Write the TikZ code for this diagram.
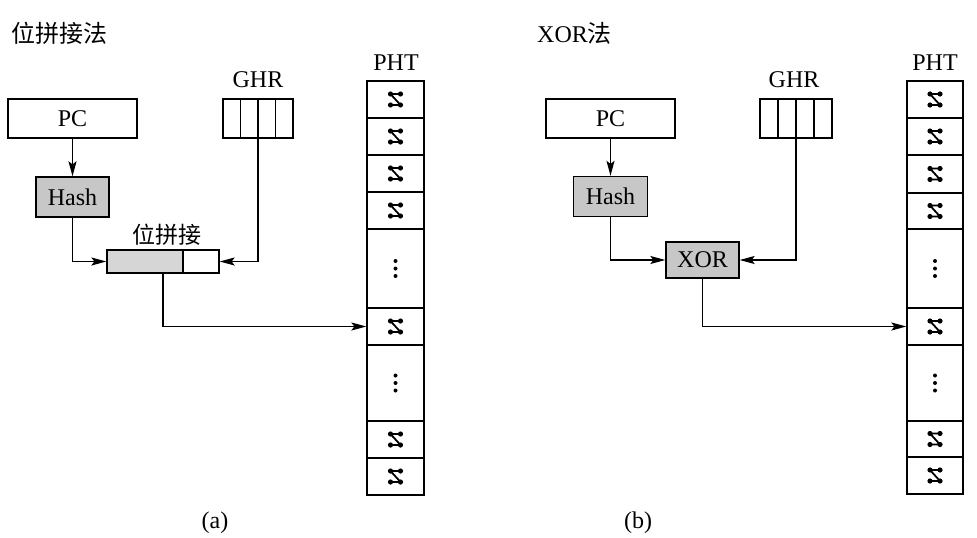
\documentclass[tikz,border=0pt]{standalone}
\usepackage{fontspec}
\setmainfont{Liberation Serif}
\newfontfamily\cjk{Noto Sans CJK SC}
\usetikzlibrary{arrows.meta}
\tikzset{
  ctr/.pic={
    \draw[line width=1.8pt, line cap=round] (-5,-5.5) -- (5,-5.5) (-5,-5.5) -- (5,5.5) (-5,5.5) -- (5,5.5);
    \fill (-5,-5.5) circle [radius=2.6pt] (5,-5.5) circle [radius=2.6pt] (-5,5.5) circle [radius=2.6pt] (5,5.5) circle [radius=2.6pt];
  },
  vdots/.pic={
    \fill (0,-7.5) circle [radius=2pt] (0,0) circle [radius=2pt] (0,7.5) circle [radius=2pt];
  }
}
\begin{document}
\begin{tikzpicture}[x=1pt,y=-1pt,
  box/.style={draw, line width=1.3pt, inner sep=0pt, font=\fontsize{24}{26}\selectfont},
  shaded/.style={box, fill=black!22},
  lab/.style={font=\fontsize{24}{26}\selectfont, inner sep=0pt},
  conn/.style={line width=1.3pt, -{Stealth[length=15pt,width=8pt,inset=3pt]}},
  cell/.style={draw, line width=1.3pt, inner sep=0pt, minimum width=57pt},
  bar/.style={line width=1.3pt}
]
\useasboundingbox (0,0) rectangle (977,538);

% ---------------- (a) ----------------
\node[lab, anchor=west, font=\fontsize{24}{26}\selectfont\cjk] (titleA) at (11,33) {位拼接法};
\node[box, minimum width=129pt, minimum height=39pt] (pcA) at (72.5,118.5) {PC};
\node[shaded, minimum width=73pt, minimum height=40pt] (hashA) at (72.5,197) {Hash};
\node[lab] (ghrlabA) at (258,80) {GHR};
\node[box, minimum width=70pt, minimum height=39pt] (ghrA) at (258,118.5) {};
\foreach \xx in {240.5,258,275.5} \draw[bar] (\xx,99) -- (\xx,138);
\node[lab, font=\fontsize{23}{25}\selectfont\cjk] (catlab) at (167,235) {位拼接};
\node[box, fill=black!16, minimum width=76pt, minimum height=23pt] (catL) at (145,261.5) {};
\node[box, minimum width=36pt, minimum height=23pt] (catR) at (201,261.5) {};
\node[lab] (phtlabA) at (396,63) {PHT};
\foreach \t/\b [count=\n] in {81/118,118/155,155/192,192/229,229/308,308/345,345/421,421/458,458/495} {
  \node[cell, minimum height={(\b-\t)*1pt}] (phtA\n) at (395.5,{(\t+\b)/2}) {};
}
\foreach \n in {1,2,3,4,6,8,9} \pic at (phtA\n.center) {ctr};
\foreach \n in {5,7} \pic at (phtA\n.center) {vdots};

\draw[conn] (pcA) -- (hashA);
\draw[conn] (hashA.south) |- (catL.west);
\draw[conn] (ghrA.south) |- (catR.east);
\draw[conn] ([xshift=18pt]catL.south) |- (phtA6.west);
\node[lab] (capA) at (215,523) {(a)};

% ---------------- (b) ----------------
\node[lab, anchor=west] (titleB) at (537,33) {XOR{\cjk 法}};
\node[box, minimum width=129pt, minimum height=39pt] (pcB) at (610.5,118.5) {PC};
\node[shaded, minimum width=74pt, minimum height=40pt] (hashB) at (610.5,196.5) {Hash};
\node[lab] (ghrlabB) at (794,80) {GHR};
\node[box, minimum width=72pt, minimum height=39pt] (ghrB) at (796,118.5) {};
\foreach \xx in {778,796,814} \draw[bar] (\xx,99) -- (\xx,138);
\node[shaded, minimum width=73pt, minimum height=36pt] (xorB) at (702.5,260) {XOR};
\node[lab] (phtlabB) at (935,63) {PHT};
\foreach \t/\b [count=\n] in {81/118,118/155,155/193,193/229,229/308,308/345,345/421,421/457,457/494} {
  \node[cell, minimum width=56pt, minimum height={(\b-\t)*1pt}] (phtB\n) at (935,{(\t+\b)/2}) {};
}
\foreach \n in {1,2,3,4,6,8,9} \pic at (phtB\n.center) {ctr};
\foreach \n in {5,7} \pic at (phtB\n.center) {vdots};

\draw[conn] (pcB) -- (hashB);
\draw[conn] (hashB.south) |- (xorB.west);
\draw[conn] (ghrB.south) |- (xorB.east);
\draw[conn] (xorB.south) |- (phtB6.west);
\node[lab] (capB) at (638,523) {(b)};
\end{tikzpicture}
\end{document}
